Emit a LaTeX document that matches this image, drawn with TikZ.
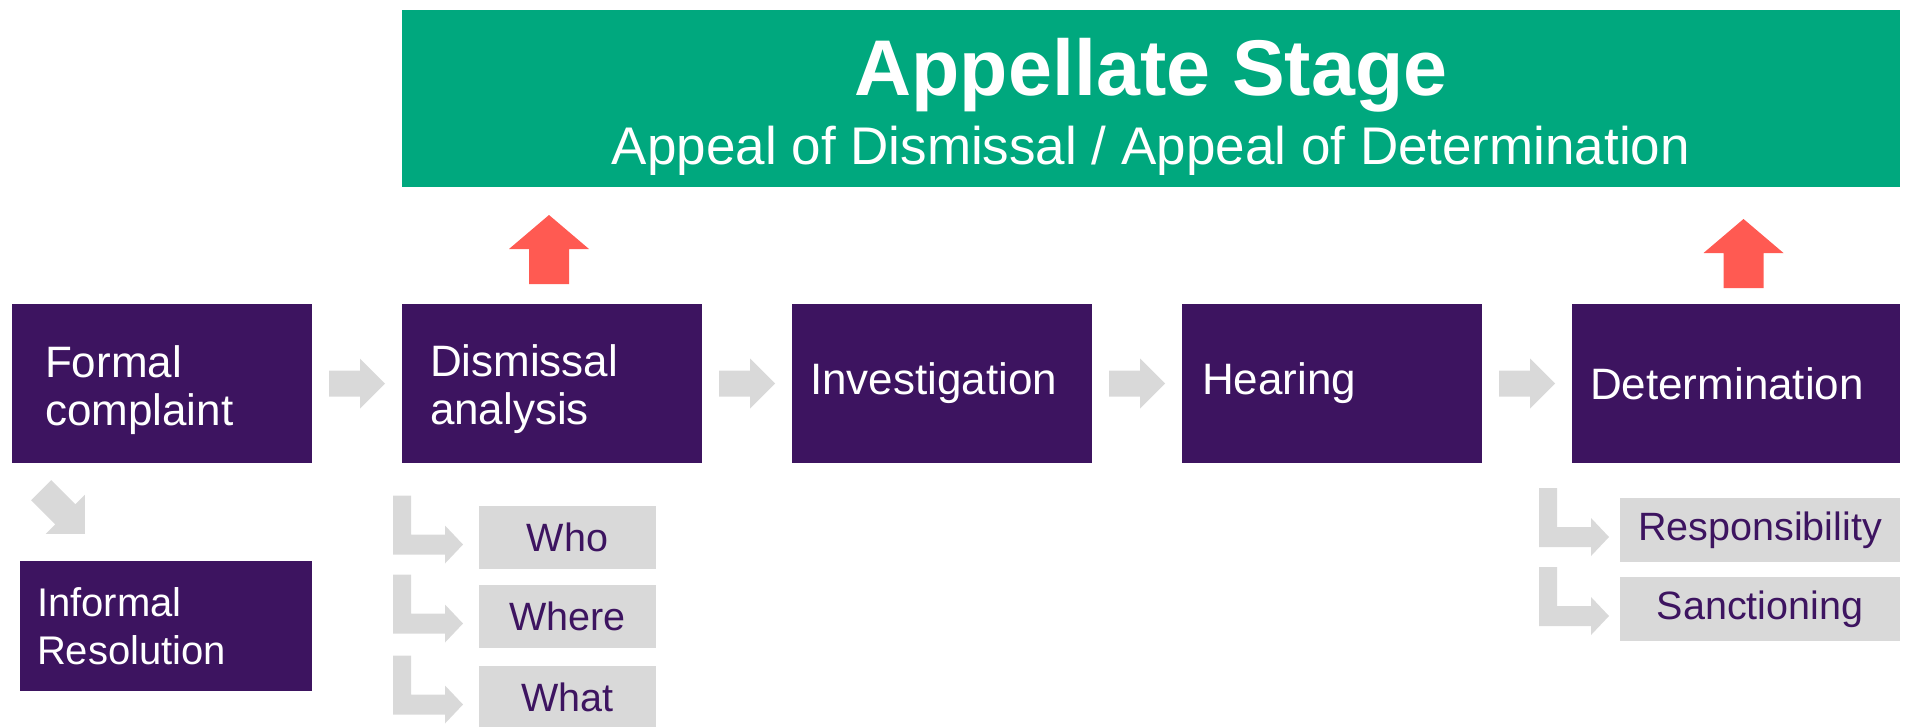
\documentclass[tikz,border=0pt]{standalone}
\usepackage{fontspec}
\setmainfont{Liberation Sans}
\usetikzlibrary{positioning,calc}
\setlength{\parindent}{0pt}

\definecolor{stagepurple}{HTML}{3D1460}
\definecolor{appealgreen}{HTML}{00A87E}
\definecolor{appealred}{HTML}{FF5A52}
\definecolor{flowgray}{HTML}{D9D9D9}

\begin{document}
\begin{tikzpicture}[x=1pt,y=-1pt,node distance=90pt,
        stage/.style={fill=stagepurple,text=white,minimum height=159pt,outer sep=0pt,
            inner xsep=18pt,text width=264pt,align=left,font=\fontsize{44}{48}\selectfont},
        sub/.style={fill=flowgray,text=stagepurple,minimum width=177pt,minimum height=63pt,
            inner sep=0pt,outer sep=0pt,font=\fontsize{39.5}{40}\selectfont},
        appeal/.style={fill=appealgreen,text=white,minimum width=1498pt,inner sep=0pt,
            minimum height=177pt,outer sep=0pt,align=center,font=\fontsize{53}{69}\selectfont},
        flow arrow/.pic={\fill[flowgray] (-28,-13) -- (3,-13) -- (3,-25) -- (28,0)
            -- (3,25) -- (3,13) -- (-28,13) -- cycle;},
        appeal arrow/.pic={\fill[appealred] (-20,0) -- (-20,-35) -- (-40,-35) -- (0,-69)
            -- (40,-35) -- (20,-35) -- (20,0) -- cycle;},
        branch arrow/.pic={\fill[flowgray] (-70,-49) -- (-52,-49) -- (-52,-10) -- (-18,-10)
            -- (-18,-19) -- (0,0) -- (-18,19) -- (-18,10) -- (-70,10) -- cycle;}]

        \useasboundingbox (0,0) rectangle (1910,726);

        % Main stages
        \node[stage,inner xsep=33pt,text width=234pt] (formal) at (162,383.5) {\rule{0pt}{45pt}Formal\\complaint};
        \node[stage,inner xsep=28pt,text width=244pt] (dismissal) [right=of formal] {\rule{0pt}{44pt}Dismissal\\analysis};
        \node[stage] (investigation) [right=of dismissal] {Investigation};
        \node[stage,inner xsep=20pt,text width=260pt] (hearing) [right=of investigation] {Hearing};
        \node[stage,text width=292pt] (determination) [right=of hearing] {Determination};
        \node[stage,minimum height=130pt,inner xsep=17pt,text width=258pt,font=\fontsize{40}{48}\selectfont]
            (informal) [below left=98pt and 0pt of formal.south east] {Informal\\Resolution};

        % Appeal box
        \node[appeal] (appellate) [above right=117pt and 0pt of dismissal.north west]
            {\rule{0pt}{73pt}{\fontsize{79}{79}\selectfont\bfseries Appellate Stage}\\
            Appeal of Dismissal / Appeal of Determination};

        % Sub items
        \node[sub] (who) [below left=43pt and 46pt of dismissal.south east] {Who};
        \node[sub] (where) [below=16pt of who] {Where};
        \node[sub] (what) [below=18pt of where] {What};
        \node[sub,minimum width=280pt,minimum height=64pt] (responsibility)
            [below left=35pt and 0pt of determination.south east] {Responsibility};
        \node[sub,minimum width=280pt,minimum height=64pt] (sanctioning)
            [below=15pt of responsibility] {Sanctioning};

        % Arrows
        \pic at ($(formal.east)!.5!(dismissal.west)$) {flow arrow};
        \pic at ($(dismissal.east)!.5!(investigation.west)$) {flow arrow};
        \pic at ($(investigation.east)!.5!(hearing.west)$) {flow arrow};
        \pic at ($(hearing.east)!.5!(determination.west)$) {flow arrow};
        \pic[rotate=-45,scale=1.1] at ($(formal.south west)!.5!(informal.north west)+(47,0)$) {flow arrow};
        \pic at ($(dismissal.north)+(-3,-20)$) {appeal arrow};
        \pic at ($(determination.north)+(7.5,-16)$) {appeal arrow};
        \pic at ($(who.west)+(-16,7)$) {branch arrow};
        \pic at ($(where.west)+(-16,7)$) {branch arrow};
        \pic at ($(what.west)+(-16,7)$) {branch arrow};
        \pic at ($(responsibility.west)+(-11,7)$) {branch arrow};
        \pic at ($(sanctioning.west)+(-11,7)$) {branch arrow};

\end{tikzpicture}
\end{document}
